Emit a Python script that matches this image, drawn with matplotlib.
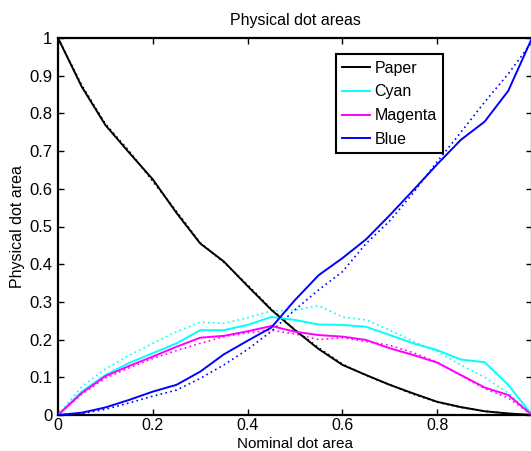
import matplotlib
matplotlib.use("Agg")
import matplotlib.pyplot as plt

plt.rcParams['font.family'] = ['Liberation Sans', 'DejaVu Sans']

nominal = [0.0, 0.05, 0.1, 0.15, 0.2, 0.25, 0.3, 0.35, 0.4, 0.45, 0.5,
           0.55, 0.6, 0.65, 0.7, 0.75, 0.8, 0.85, 0.9, 0.95, 1.0]

paper_meas = [1.0, 0.871, 0.769, 0.696, 0.625, 0.536, 0.455, 0.407, 0.342, 0.279, 0.225,
              0.175, 0.133, 0.106, 0.080, 0.057, 0.035, 0.021, 0.010, 0.004, 0.0]
paper_model = [1.0, 0.875, 0.772, 0.700, 0.620, 0.540, 0.457, 0.405, 0.345, 0.281, 0.226,
               0.178, 0.135, 0.105, 0.080, 0.055, 0.034, 0.020, 0.010, 0.004, 0.0]

cyan_meas = [0.0, 0.062, 0.106, 0.138, 0.164, 0.190, 0.225, 0.225, 0.239, 0.260, 0.252,
             0.240, 0.239, 0.234, 0.212, 0.190, 0.172, 0.147, 0.140, 0.080, 0.0]
cyan_model = [0.0, 0.075, 0.122, 0.158, 0.190, 0.221, 0.246, 0.243, 0.258, 0.276, 0.278,
              0.290, 0.260, 0.252, 0.225, 0.195, 0.168, 0.133, 0.100, 0.058, 0.0]

magenta_meas = [0.0, 0.058, 0.103, 0.130, 0.155, 0.181, 0.205, 0.210, 0.222, 0.236, 0.221,
                0.212, 0.208, 0.199, 0.177, 0.159, 0.139, 0.106, 0.073, 0.053, 0.0]
magenta_model = [0.0, 0.055, 0.098, 0.125, 0.150, 0.171, 0.190, 0.208, 0.218, 0.225, 0.215,
                 0.200, 0.205, 0.195, 0.185, 0.165, 0.140, 0.105, 0.070, 0.045, 0.0]

blue_meas = [0.0, 0.006, 0.020, 0.040, 0.062, 0.080, 0.115, 0.161, 0.197, 0.232, 0.305,
             0.371, 0.416, 0.466, 0.530, 0.597, 0.665, 0.730, 0.778, 0.860, 1.0]
blue_model = [0.0, 0.004, 0.015, 0.032, 0.050, 0.066, 0.097, 0.133, 0.174, 0.222, 0.279,
              0.332, 0.380, 0.455, 0.515, 0.590, 0.672, 0.750, 0.830, 0.905, 0.99]

labels = ['Paper', 'Cyan', 'Magenta', 'Blue']
colors = ['#000000', '#00ffff', '#ff00ff', '#0000ff']

xticks = [0, 0.2, 0.4, 0.6, 0.8, 1.0]
xticklabels = ['0', '0.2', '0.4', '0.6', '0.8', '']
yticks = [0, 0.1, 0.2, 0.3, 0.4, 0.5, 0.6, 0.7, 0.8, 0.9, 1.0]
yticklabels = ['0', '0.1', '0.2', '0.3', '0.4', '0.5', '0.6', '0.7', '0.8', '0.9', '1']

fig = plt.figure(figsize=(5.31, 4.51), dpi=100)
ax = fig.add_axes([58 / 531, 36 / 451, 474 / 531, 377 / 451])

meas = [paper_meas, cyan_meas, magenta_meas, blue_meas]
model = [paper_model, cyan_model, magenta_model, blue_model]

handles = []
for lab, col, m in zip(labels, colors, meas):
    h, = ax.plot(nominal, m, color=col, lw=1.4, label=lab, zorder=3)
    handles.append(h)
for col, m in zip(colors, model):
    ax.plot(nominal, m, color=col, lw=1.2, ls=(0, (1, 2.0)), zorder=2)

ax.set_xlim(0, 1)
ax.set_ylim(0, 1)
ax.set_xticks(xticks)
ax.set_xticklabels(xticklabels)
ax.set_yticks(yticks)
ax.set_yticklabels(yticklabels)
ax.tick_params(direction='in', length=4, width=1, top=True, right=True)
ax.tick_params(axis='x', pad=2.5, labelsize=11.5)
ax.tick_params(axis='y', pad=4, labelsize=12)
for s in ax.spines.values():
    s.set_linewidth(1.6)

ax.set_title('Physical dot areas', fontsize=11.5, pad=9)
ax.set_xlabel('Nominal dot area', fontsize=11, va='bottom')
ax.xaxis.set_label_coords(0.5, -35.5 / 377)
ax.set_ylabel('Physical dot area', fontsize=11.5, labelpad=3)

leg = ax.legend(handles=handles, loc='upper left', bbox_to_anchor=(0.5865, 0.957),
                fontsize=11.5, frameon=True, fancybox=False, shadow=False,
                handlelength=1.75, handletextpad=0.25, labelspacing=0.55,
                borderpad=0.4, borderaxespad=0)
leg.get_frame().set_edgecolor('black')
leg.get_frame().set_linewidth(1.5)
leg.get_frame().set_alpha(1)

fig.savefig('out.png', dpi=100)
